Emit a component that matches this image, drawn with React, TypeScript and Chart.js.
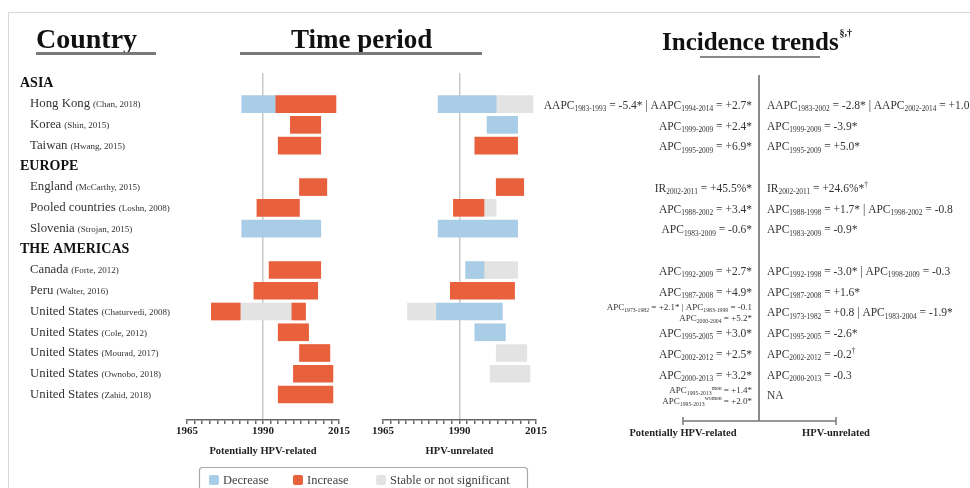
import React, { useEffect, useRef } from 'react';
import { Chart, registerables } from 'chart.js';

Chart.register(...registerables);

const SERIF = '"Liberation Serif", "Times New Roman", serif';
const W = 970;
const H = 488;

// Rows of the table (index = row position on the vertical scale)
const rowLabels = [
  'ASIA', 'Hong Kong', 'Korea', 'Taiwan',
  'EUROPE', 'England', 'Pooled countries', 'Slovenia',
  'THE AMERICAS', 'Canada', 'Peru', 'United States', 'United States',
  'United States', 'United States', 'United States',
];
const rowCitations = [
  '', '(Chan, 2018)', '(Shin, 2015)', '(Hwang, 2015)',
  '', '(McCarthy, 2015)', '(Loshn, 2008)', '(Strojan, 2015)',
  '', '(Forte, 2012)', '(Walter, 2016)', '(Chaturvedi, 2008)', '(Cole, 2012)',
  '(Mourad, 2017)', '(Ownobo, 2018)', '(Zahid, 2018)',
];
const headerRows = [0, 4, 8];

// Year axis
const yearMin = 1965;
const yearMax = 2015;
const yearStep = 2.5;
const yearTickLabels = [1965, 1990, 2015];
const referenceYear = 1990;

// Time periods: [row, start year, end year]
const relatedDecrease = [[1, 1983, 1994], [7, 1983, 2009]];
const relatedIncrease = [
  [1, 1994, 2014], [2, 1999, 2009], [3, 1995, 2009], [5, 2002, 2011],
  [6, 1988, 2002], [9, 1992, 2009], [10, 1987, 2008], [11, 1973, 1982.5],
  [11, 1999.5, 2004], [12, 1995, 2005], [13, 2002, 2012], [14, 2000, 2013],
  [15, 1995, 2013],
];
const relatedStable = [[11, 1982.5, 1999.5]];

const unrelatedDecrease = [
  [1, 1983, 2002], [2, 1999, 2009], [7, 1983, 2009], [9, 1992, 1998],
  [11, 1982.5, 2004], [12, 1995, 2005],
];
const unrelatedIncrease = [[3, 1995, 2009], [5, 2002, 2011], [6, 1988, 1998], [10, 1987, 2008]];
const unrelatedStable = [
  [1, 2002, 2014], [6, 1998, 2002], [9, 1998, 2009], [11, 1973, 1982.5],
  [13, 2002, 2012], [14, 2000, 2013],
];

// Incidence trend statements (_{..} subscript, ^{..} superscript, \n new line)
const relatedTrends = [
  '',
  'AAPC_{1983-1993} = -5.4* | AAPC_{1994-2014} = +2.7*',
  'APC_{1999-2009} = +2.4*',
  'APC_{1995-2009} = +6.9*',
  '',
  'IR_{2002-2011} = +45.5%*',
  'APC_{1988-2002} = +3.4*',
  'APC_{1983-2009} = -0.6*',
  '',
  'APC_{1992-2009} = +2.7*',
  'APC_{1987-2008} = +4.9*',
  'APC_{1973-1982} = +2.1* | APC_{1983-1999} = -0.1\nAPC_{2000-2004} = +5.2*',
  'APC_{1995-2005} = +3.0*',
  'APC_{2002-2012} = +2.5*',
  'APC_{2000-2013} = +3.2*',
  'APC_{1995-2013}^{men} = +1.4*\nAPC_{1995-2013}^{women} = +2.0*',
];
const unrelatedTrends = [
  '',
  'AAPC_{1983-2002} = -2.8* | AAPC_{2002-2014} = +1.0',
  'APC_{1999-2009} = -3.9*',
  'APC_{1995-2009} = +5.0*',
  '',
  'IR_{2002-2011} = +24.6%*^{†}',
  'APC_{1988-1998} = +1.7* | APC_{1998-2002} = -0.8',
  'APC_{1983-2009} = -0.9*',
  '',
  'APC_{1992-1998} = -3.0* | APC_{1998-2009} = -0.3',
  'APC_{1987-2008} = +1.6*',
  'APC_{1973-1982} = +0.8 | APC_{1983-2004} = -1.9*',
  'APC_{1995-2005} = -2.6*',
  'APC_{2002-2012} = -0.2^{†}',
  'APC_{2000-2013} = -0.3',
  'NA',
];

const trendLabels = ['Decrease', 'Increase', 'Stable or not significant'];
const trendColors = ['#a9cde6', '#e8613c', '#e3e3e3'];

type Seg = number[];
const toBars = (list: Seg[]) => list.map(([row, start, end]) => ({ y: row, x: [start, end] }));

type Run = { text: string; kind: 'n' | 'sub' | 'sup' };
function parseRich(s: string): Run[] {
  const runs: Run[] = [];
  const re = /([_^])\{([^}]*)\}/g;
  let last = 0;
  let m: RegExpExecArray | null;
  while ((m = re.exec(s))) {
    if (m.index > last) runs.push({ text: s.slice(last, m.index), kind: 'n' });
    runs.push({ text: m[2], kind: m[1] === '_' ? 'sub' : 'sup' });
    last = re.lastIndex;
  }
  if (last < s.length) runs.push({ text: s.slice(last), kind: 'n' });
  return runs;
}

function drawRich(ctx: CanvasRenderingContext2D, s: string, x: number, y: number, size: number, align: 'left' | 'right') {
  const runs = parseRich(s);
  const small = size * 0.64;
  const fontOf = (r: Run) => `${r.kind === 'n' ? size : small}px ${SERIF}`;
  const widths = runs.map((r) => {
    ctx.font = fontOf(r);
    return ctx.measureText(r.text).width;
  });
  const total = widths.reduce((a, b) => a + b, 0);
  let cx = align === 'right' ? x - total : x;
  const base = y + size * 0.33;
  ctx.textAlign = 'left';
  ctx.textBaseline = 'alphabetic';
  runs.forEach((r, i) => {
    ctx.font = fontOf(r);
    const dy = r.kind === 'sub' ? size * 0.2 : r.kind === 'sup' ? -size * 0.42 : 0;
    ctx.fillText(r.text, cx, base + dy);
    cx += widths[i];
  });
}

function drawTrendCell(ctx: CanvasRenderingContext2D, s: string, x: number, y: number, align: 'left' | 'right') {
  if (!s) return;
  const lines = s.split('\n');
  if (lines.length === 1) {
    drawRich(ctx, s, x, y + 1, 11.5, align);
  } else {
    drawRich(ctx, lines[0], x, y - 4, 9, align);
    drawRich(ctx, lines[1], x, y + 6.5, 9, align);
  }
}

// Left canvas decorations: frame, headings, row labels and legend
const leftDecor = {
  id: 'leftDecor',
  afterDraw(chart: any) {
    const ctx: CanvasRenderingContext2D = chart.ctx;
    const yScale = chart.scales.y;
    ctx.save();

    ctx.strokeStyle = '#d8d8d8';
    ctx.lineWidth = 1;
    ctx.strokeRect(8.5, 12.5, W + 10, H);

    // headings
    ctx.fillStyle = '#111';
    ctx.textBaseline = 'alphabetic';
    ctx.textAlign = 'left';
    ctx.font = `bold 28px ${SERIF}`;
    ctx.fillText('Country', 36, 48);
    ctx.font = `bold 27px ${SERIF}`;
    ctx.fillText('Time period', 291, 48);
    ctx.font = `bold 25px ${SERIF}`;
    ctx.fillText('Incidence trends', 662, 50);
    const itW = ctx.measureText('Incidence trends').width;
    ctx.font = `bold 10px ${SERIF}`;
    ctx.fillText('§,†', 662 + itW + 1, 36);

    ctx.strokeStyle = '#7a7a7a';
    ctx.lineWidth = 3;
    ctx.beginPath();
    ctx.moveTo(36, 53.5); ctx.lineTo(156, 53.5);
    ctx.moveTo(240, 53.5); ctx.lineTo(482, 53.5);
    ctx.stroke();
    ctx.lineWidth = 2;
    ctx.strokeStyle = '#8a8a8a';
    ctx.beginPath();
    ctx.moveTo(700, 57); ctx.lineTo(820, 57);
    ctx.stroke();

    // row labels
    rowLabels.forEach((label, i) => {
      const y = yScale.getPixelForValue(i);
      ctx.textBaseline = 'middle';
      if (headerRows.includes(i)) {
        ctx.fillStyle = '#111';
        ctx.font = `bold 14px ${SERIF}`;
        ctx.fillText(label, 20, y);
      } else {
        ctx.fillStyle = '#333';
        ctx.font = `12.8px ${SERIF}`;
        ctx.fillText(label, 30, y);
        const w = ctx.measureText(label).width;
        ctx.font = `9px ${SERIF}`;
        ctx.fillText(rowCitations[i], 30 + w + 3, y + 1);
      }
    });

    // legend
    ctx.strokeStyle = '#a8a8a8';
    ctx.lineWidth = 1.2;
    ctx.beginPath();
    ctx.roundRect(199.5, 467.5, 328, 26, 3);
    ctx.stroke();
    const swatchX = [209, 293, 376];
    const textX = [223, 307, 390];
    chart.data.datasets.forEach((ds: any, i: number) => {
      ctx.fillStyle = ds.backgroundColor;
      ctx.beginPath();
      ctx.roundRect(swatchX[i], 475, 10, 10, 2);
      ctx.fill();
      ctx.fillStyle = '#444';
      ctx.font = `12.5px ${SERIF}`;
      ctx.textBaseline = 'middle';
      ctx.fillText(ds.label, textX[i], 480.5);
    });

    ctx.restore();
  },
};

// Right canvas decorations: incidence-trend table
const trendTable = {
  id: 'trendTable',
  afterDraw(chart: any) {
    const ctx: CanvasRenderingContext2D = chart.ctx;
    const yScale = chart.scales.y;
    const axisY = chart.chartArea.bottom + 1;
    ctx.save();

    ctx.strokeStyle = '#8c8c8c';
    ctx.lineWidth = 2;
    ctx.beginPath();
    ctx.moveTo(759, 75); ctx.lineTo(759, axisY);
    ctx.stroke();
    ctx.strokeStyle = '#777';
    ctx.lineWidth = 1.5;
    ctx.beginPath();
    ctx.moveTo(683, axisY); ctx.lineTo(836, axisY);
    ctx.moveTo(683, axisY - 4); ctx.lineTo(683, axisY + 4);
    ctx.moveTo(836, axisY - 4); ctx.lineTo(836, axisY + 4);
    ctx.stroke();

    ctx.fillStyle = '#222';
    ctx.font = `bold 10.5px ${SERIF}`;
    ctx.textAlign = 'center';
    ctx.textBaseline = 'middle';
    ctx.fillText('Potentially HPV-related', 683, axisY + 12);
    ctx.fillText('HPV-unrelated', 836, axisY + 12);

    ctx.fillStyle = '#333';
    relatedTrends.forEach((s, i) => drawTrendCell(ctx, s, 752, yScale.getPixelForValue(i), 'right'));
    unrelatedTrends.forEach((s, i) => drawTrendCell(ctx, s, 767, yScale.getPixelForValue(i), 'left'));

    ctx.restore();
  },
};

function panelConfig(dec: Seg[], inc: Seg[], stable: Seg[], title: string, left: number, right: number, plugin: any) {
  const lists = [dec, inc, stable];
  return {
    type: 'bar' as const,
    data: {
      datasets: lists.map((list, i) => ({
        label: trendLabels[i],
        data: toBars(list),
        backgroundColor: trendColors[i],
      })),
    },
    options: {
      indexAxis: 'y' as const,
      responsive: false,
      animation: false as const,
      events: [],
      layout: { padding: { left, right: W - right, top: 73, bottom: 0 } },
      plugins: { legend: { display: false }, tooltip: { enabled: false } },
      datasets: {
        bar: {
          grouped: false,
          barThickness: 17,
          categoryPercentage: 1,
          barPercentage: 0.82,
          borderWidth: 0,
          borderSkipped: false,
          clip: false,
        },
      },
      scales: {
        y: {
          type: 'linear' as const,
          min: -0.5,
          max: 16.23,
          reverse: true,
          offset: false,
          display: false,
          grid: { offset: false },
        },
        x: {
          type: 'linear' as const,
          min: yearMin,
          max: yearMax,
          stacked: false,
          afterFit: (s: any) => { s.height = 68; },
          ticks: {
            stepSize: yearStep,
            autoSkip: false,
            maxRotation: 0,
            padding: 1,
            color: '#222',
            font: { family: SERIF, size: 11, weight: 'bold' as const },
            callback: (v: any) => (yearTickLabels.includes(Number(v)) ? String(v) : ''),
          },
          grid: {
            color: (c: any) => (c.tick && c.tick.value === referenceYear ? '#c8c8c8' : 'rgba(0,0,0,0)'),
            lineWidth: 1.5,
            tickColor: '#6a6a6a',
            tickLength: 4,
          },
          border: { display: true, color: '#666', width: 1.5 },
          title: {
            display: true,
            text: title,
            color: '#222',
            font: { family: SERIF, size: 10.5, weight: 'bold' as const },
            padding: { top: 0, bottom: 30 },
          },
        },
      },
    },
    plugins: [plugin],
  };
}

export default function App() {
  const leftRef = useRef<HTMLCanvasElement>(null);
  const rightRef = useRef<HTMLCanvasElement>(null);

  useEffect(() => {
    const a = new Chart(leftRef.current as HTMLCanvasElement,
      panelConfig(relatedDecrease, relatedIncrease, relatedStable, 'Potentially HPV-related', 187, 339, leftDecor) as any);
    const b = new Chart(rightRef.current as HTMLCanvasElement,
      panelConfig(unrelatedDecrease, unrelatedIncrease, unrelatedStable, 'HPV-unrelated', 383, 536, trendTable) as any);
    return () => { a.destroy(); b.destroy(); };
  }, []);

  const canvasStyle: React.CSSProperties = { position: 'absolute', left: 0, top: 0, width: W, height: H };
  return (
    <div style={{ position: 'absolute', left: 0, top: 0, width: W, height: H, background: '#fff', overflow: 'hidden' }}>
      <canvas ref={leftRef} width={W} height={H} style={canvasStyle} />
      <canvas ref={rightRef} width={W} height={H} style={canvasStyle} />
    </div>
  );
}
